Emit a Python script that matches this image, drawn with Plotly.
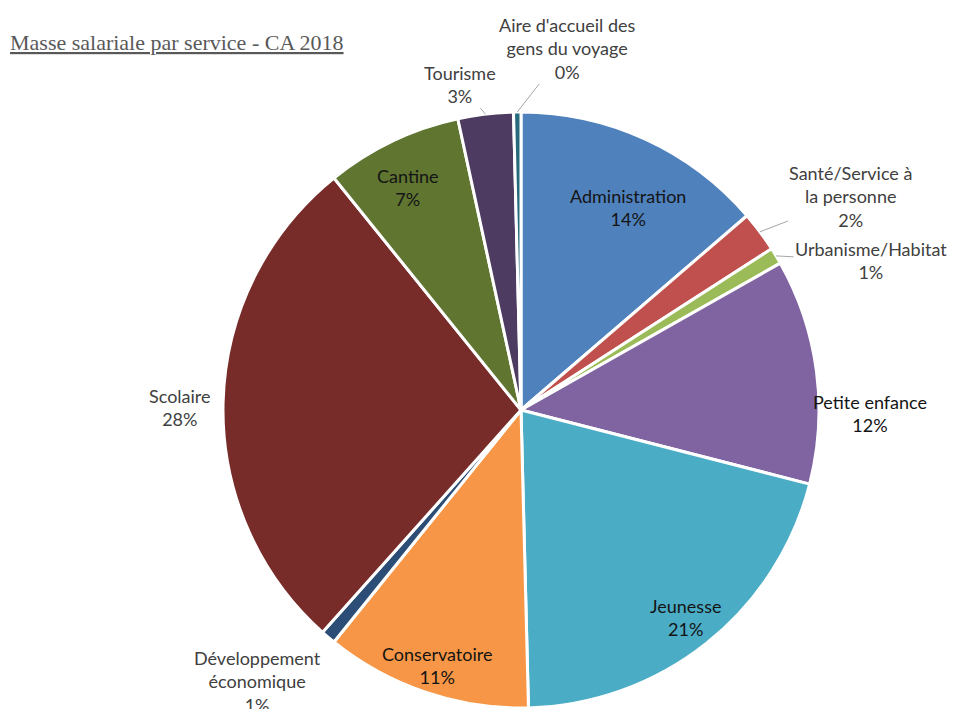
import math
import plotly.graph_objects as go

services = ["Administration", "Santé/Service à<br>la personne", "Urbanisme/Habitat",
            "Petite enfance", "Jeunesse", "Conservatoire",
            "Développement<br>économique", "Scolaire", "Cantine", "Tourisme",
            "Aire d'accueil des<br>gens du voyage"]
parts = [13.7, 2.2, 0.9, 12.2, 20.6, 11.2, 0.8, 27.6, 7.4, 3.0, 0.4]
colors = ["#4F81BD", "#C0504D", "#9BBB59", "#8064A2", "#4BACC6", "#F79646",
          "#2C4D75", "#772C2A", "#5F7530", "#4D3B62", "#276A7C"]

# label placement: pixel offset from the slice's outer edge (at mid-angle),
# whether a leader line is drawn, and whether the label sits on the slice
label_offsets = [(-17, 68), (91, -35), (95, 5), (54, 43), (-21, -26), (12, -27),
                 (-71, 44), (-43, 5), (16, 46), (-26, -30), (50, -64)]
leader = [False, True, True, False, False, False, False, False, False, True, True]
on_slice = [True, False, False, True, True, True, False, False, True, False, False]

W, H = 957, 709
dom_x = [215 / W, 811 / W]
dom_y = [1 - 700 / H, 1 - 104 / H]
FONT = "Lato, Open Sans, sans-serif"

fig = go.Figure(go.Pie(
    labels=services, values=parts, sort=False, direction="clockwise", rotation=0,
    marker=dict(colors=colors, line=dict(color="white", width=3)),
    textinfo="none", domain=dict(x=dom_x, y=dom_y),
    showlegend=False, hoverinfo="label+percent",
))

cx_px = (dom_x[0] + dom_x[1]) / 2 * W
cy_px = (1 - (dom_y[0] + dom_y[1]) / 2) * H
r_px = min((dom_x[1] - dom_x[0]) * W, (dom_y[1] - dom_y[0]) * H) / 2
total = sum(parts)
annotations = []
cum = 0.0
for i, v in enumerate(parts):
    mid = (cum + v / 2) / total * 2 * math.pi
    cum += v
    px = cx_px + r_px * math.sin(mid)
    py = cy_px - r_px * math.cos(mid)
    dx, dy = label_offsets[i]
    txt = f"{services[i]}<br>{round(v / total * 100)}%"
    col = "#141414" if on_slice[i] else "#404040"
    a = dict(x=px / W, y=1 - py / H, xref="paper", yref="paper", text=txt,
             xanchor="center", yanchor="middle",
             font=dict(family=FONT, size=18, color=col))
    if leader[i]:
        a.update(showarrow=True, arrowhead=0, arrowwidth=1, arrowcolor="#A6A6A6",
                 ax=dx, ay=dy, standoff=0, startstandoff=0)
    else:
        a.update(showarrow=False, xshift=dx, yshift=-dy)
    annotations.append(a)

annotations.append(dict(
    text="<u>Masse salariale par service - CA 2018</u>",
    x=0 / W, y=1 - 34 / H, xref="paper", yref="paper",
    xanchor="left", yanchor="middle", showarrow=False,
    font=dict(family="Liberation Serif, Times New Roman, serif", size=22, color="#595959")))

fig.update_layout(
    width=W, height=H, margin=dict(l=0, r=0, t=0, b=0),
    paper_bgcolor="white", plot_bgcolor="white",
    annotations=annotations,
)
fig.write_html("out.html")
